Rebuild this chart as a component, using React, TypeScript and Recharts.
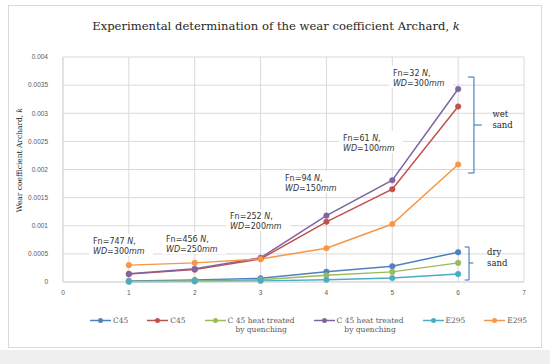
import React from "react";
import {
  LineChart,
  Line,
  XAxis,
  YAxis,
  CartesianGrid,
  Legend,
  ReferenceLine,
  ReferenceDot,
} from "recharts";

// ---- data ----
const xValues = [1, 2, 3, 4, 5, 6];
const c45Dry = [0.00002, 0.000035, 0.000065, 0.000183, 0.00028, 0.00053];
const c45Wet = [0.00014, 0.00022, 0.00041, 0.00107, 0.00165, 0.00312];
const c45htDry = [0.00001, 0.00002, 0.00004, 0.00012, 0.00018, 0.00034];
const c45htWet = [0.000145, 0.000236, 0.00043, 0.00118, 0.00181, 0.00343];
const e295Dry = [0.000005, 0.00001, 0.00002, 0.00004, 0.00007, 0.000142];
const e295Wet = [0.0003, 0.00034, 0.00041, 0.0006, 0.00103, 0.00209];

const xTicks = [0, 1, 2, 3, 4, 5, 6, 7];
const yTicks = [0, 0.0005, 0.001, 0.0015, 0.002, 0.0025, 0.003, 0.0035, 0.004];

const seriesNames = [
  "C45",
  "C45",
  "C 45 heat treated\nby quenching",
  "C 45 heat treated\nby quenching",
  "E295",
  "E295",
];
const seriesKeys = ["c45Dry", "c45Wet", "c45htDry", "c45htWet", "e295Dry", "e295Wet"];
const seriesColors = ["#4f81bd", "#c0504d", "#9bbb59", "#8064a2", "#4bacc6", "#f79646"];

const annotationFn = ["747", "456", "252", "94", "61", "32"];
const annotationWd = ["300", "250", "200", "150", "100", "300"];
// anchor (data units) of each annotation's top-left text line
const annotationX = [0.456, 1.564, 2.536, 3.371, 4.252, 5.01];
const annotationY = [0.000729, 0.000764, 0.001173, 0.001849, 0.00256, 0.003716];

const data = xValues.map((x, i) => ({
  x,
  c45Dry: c45Dry[i],
  c45Wet: c45Wet[i],
  c45htDry: c45htDry[i],
  c45htWet: c45htWet[i],
  e295Dry: e295Dry[i],
  e295Wet: e295Wet[i],
}));

const ANN_FONT = "'DejaVu Sans', Verdana, sans-serif";
const SERIF = "'DejaVu Serif', serif";
const BRACKET = "#4f81bd";

const AnnoLabel = (props: any) => {
  const { viewBox, fn, wd } = props;
  const x = viewBox.x;
  const y = viewBox.y;
  return (
    <g>
      <rect x={x - 4} y={y - 7} width={64} height={22} fill="#ffffff" />
      <text x={x} y={y + 3} fontSize={8} fontFamily={ANN_FONT} fill="#333333">
        <tspan>{`Fn=${fn} `}</tspan>
        <tspan fontStyle="italic">N</tspan>
        <tspan>,</tspan>
      </text>
      <text x={x} y={y + 13} fontSize={8} fontFamily={ANN_FONT} fill="#333333">
        <tspan fontStyle="italic">WD</tspan>
        <tspan>{`=${wd}`}</tspan>
        <tspan fontStyle="italic">mm</tspan>
      </text>
    </g>
  );
};

const SandLabel = (props: any) => {
  const { viewBox, l1, l2 } = props;
  const x = viewBox.x;
  const y = viewBox.y;
  return (
    <g>
      <text x={x} y={y - 1} fontSize={8.5} fontFamily={SERIF} fill="#262626">
        {l1}
      </text>
      <text x={x} y={y + 10} fontSize={8.5} fontFamily={SERIF} fill="#262626">
        {l2}
      </text>
    </g>
  );
};

const YLabel = (props: any) => {
  const { viewBox } = props;
  const x = viewBox.x + 14;
  const y = 160;
  return (
    <text
      x={x}
      y={y}
      transform={`rotate(-90, ${x}, ${y})`}
      textAnchor="middle"
      fontSize={7.5}
      fontFamily={SERIF}
      fill="#1a1a1a"
    >
      <tspan>Wear coefficient Archard, </tspan>
      <tspan fontStyle="italic">k</tspan>
    </text>
  );
};

const renderLegend = (props: any) => {
  const payload = [...(props.payload || [])].sort(
    (a: any, b: any) => seriesKeys.indexOf(a.dataKey) - seriesKeys.indexOf(b.dataKey)
  );
  return (
    <div style={{ display: "flex", gap: 19, paddingTop: 14, alignItems: "flex-start" }}>
      {payload.map((entry: any, i: number) => (
        <div key={i} style={{ display: "flex", alignItems: "flex-start" }}>
          <svg width={21} height={9} style={{ display: "block", marginTop: 0 }}>
            <line x1={0} y1={4.5} x2={21} y2={4.5} stroke={entry.color} strokeWidth={1.5} />
            <circle cx={10.5} cy={4.5} r={2.5} fill={entry.color} />
          </svg>
          <span
            style={{
              marginLeft: 2,
              fontSize: 7.5,
              lineHeight: "9px",
              fontFamily: SERIF,
              color: "#595959",
              whiteSpace: "pre-line",
              textAlign: "center",
            }}
          >
            {entry.value}
          </span>
        </div>
      ))}
    </div>
  );
};

export default function App() {
  return (
    <div
      style={{
        position: "absolute",
        left: 0,
        top: 0,
        width: 550,
        height: 364,
        background: "#ffffff",
        overflow: "hidden",
      }}
    >
      <div
        style={{
          position: "absolute",
          left: 8,
          top: 5,
          width: 534,
          height: 343,
          border: "1px solid #d9d9d9",
          boxSizing: "border-box",
        }}
      />
      <div
        style={{
          position: "absolute",
          left: 0,
          top: 350,
          width: 550,
          height: 14,
          background: "#efefef",
        }}
      />
      <div
        style={{
          position: "absolute",
          left: 0,
          top: 19,
          width: 552,
          textAlign: "center",
          fontFamily: SERIF,
          fontSize: 11.6,
          color: "#262626",
        }}
      >
        Experimental determination of the wear coefficient Archard, <i>k</i>
      </div>
      <div style={{ position: "absolute", left: 0, top: 0 }}>
        <LineChart
          width={550}
          height={364}
          data={data}
          margin={{ top: 57, right: 26, bottom: 22, left: 8 }}
        >
          <CartesianGrid stroke="#d9d9d9" strokeWidth={1} />
          <XAxis
            dataKey="x"
            type="number"
            domain={[0, 7]}
            ticks={xTicks}
            tickLine={false}
            tickSize={0}
            tickMargin={8}
            height={20}
            axisLine={{ stroke: "#d9d9d9" }}
            tick={{ fontSize: 6.5, fill: "#595959", fontFamily: "'Liberation Sans', Arial, sans-serif" }}
            allowDecimals={false}
          />
          <YAxis
            type="number"
            domain={[0, 0.004]}
            ticks={yTicks}
            width={55}
            tickLine={false}
            tickSize={0}
            tickMargin={15}
            axisLine={{ stroke: "#d9d9d9" }}
            tick={{ fontSize: 6.5, fill: "#595959", fontFamily: "'Liberation Sans', Arial, sans-serif" }}
            tickFormatter={(v: number) => String(v)}
            label={<YLabel />}
          />
          <Legend
            verticalAlign="bottom"
            content={renderLegend}
            itemSorter={(item: any) => seriesKeys.indexOf(item.dataKey)}
            wrapperStyle={{ left: 90, width: 450, height: 40 }}
          />
          {seriesKeys.map((k, i) => (
            <Line
              key={k}
              type="linear"
              dataKey={k}
              name={seriesNames[i]}
              stroke={seriesColors[i]}
              strokeWidth={1.5}
              dot={{ r: 2.8, fill: seriesColors[i], stroke: seriesColors[i], strokeWidth: 0.5 }}
              isAnimationActive={false}
            />
          ))}
          {annotationFn.map((fn, i) => (
            <ReferenceDot
              key={`a${i}`}
              x={annotationX[i]}
              y={annotationY[i]}
              r={0}
              fill="none"
              stroke="none"
              ifOverflow="visible"
              label={<AnnoLabel fn={fn} wd={annotationWd[i]} />}
            />
          ))}
          {/* wet sand bracket */}
          <ReferenceLine segment={[{ x: 6.15, y: 0.003644 }, { x: 6.24, y: 0.003644 }]} stroke={BRACKET} strokeWidth={1.2} ifOverflow="visible" />
          <ReferenceLine segment={[{ x: 6.24, y: 0.003644 }, { x: 6.24, y: 0.001938 }]} stroke={BRACKET} strokeWidth={1.2} ifOverflow="visible" />
          <ReferenceLine segment={[{ x: 6.15, y: 0.001938 }, { x: 6.24, y: 0.001938 }]} stroke={BRACKET} strokeWidth={1.2} ifOverflow="visible" />
          <ReferenceLine segment={[{ x: 6.24, y: 0.002791 }, { x: 6.36, y: 0.002791 }]} stroke={BRACKET} strokeWidth={1.2} ifOverflow="visible" />
          {/* dry sand bracket */}
          <ReferenceLine segment={[{ x: 6.1, y: 0.000622 }, { x: 6.165, y: 0.000622 }]} stroke={BRACKET} strokeWidth={1.2} ifOverflow="visible" />
          <ReferenceLine segment={[{ x: 6.165, y: 0.000622 }, { x: 6.165, y: 0.0000356 }]} stroke={BRACKET} strokeWidth={1.2} ifOverflow="visible" />
          <ReferenceLine segment={[{ x: 6.1, y: 0.0000356 }, { x: 6.165, y: 0.0000356 }]} stroke={BRACKET} strokeWidth={1.2} ifOverflow="visible" />
          <ReferenceLine segment={[{ x: 6.165, y: 0.000338 }, { x: 6.23, y: 0.000338 }]} stroke={BRACKET} strokeWidth={1.2} ifOverflow="visible" />
          <ReferenceDot x={6.52} y={0.002916} r={0} fill="none" stroke="none" ifOverflow="visible" label={<SandLabel l1="wet" l2="sand" />} />
          <ReferenceDot x={6.44} y={0.000462} r={0} fill="none" stroke="none" ifOverflow="visible" label={<SandLabel l1="dry" l2="sand" />} />
        </LineChart>
      </div>
    </div>
  );
}
